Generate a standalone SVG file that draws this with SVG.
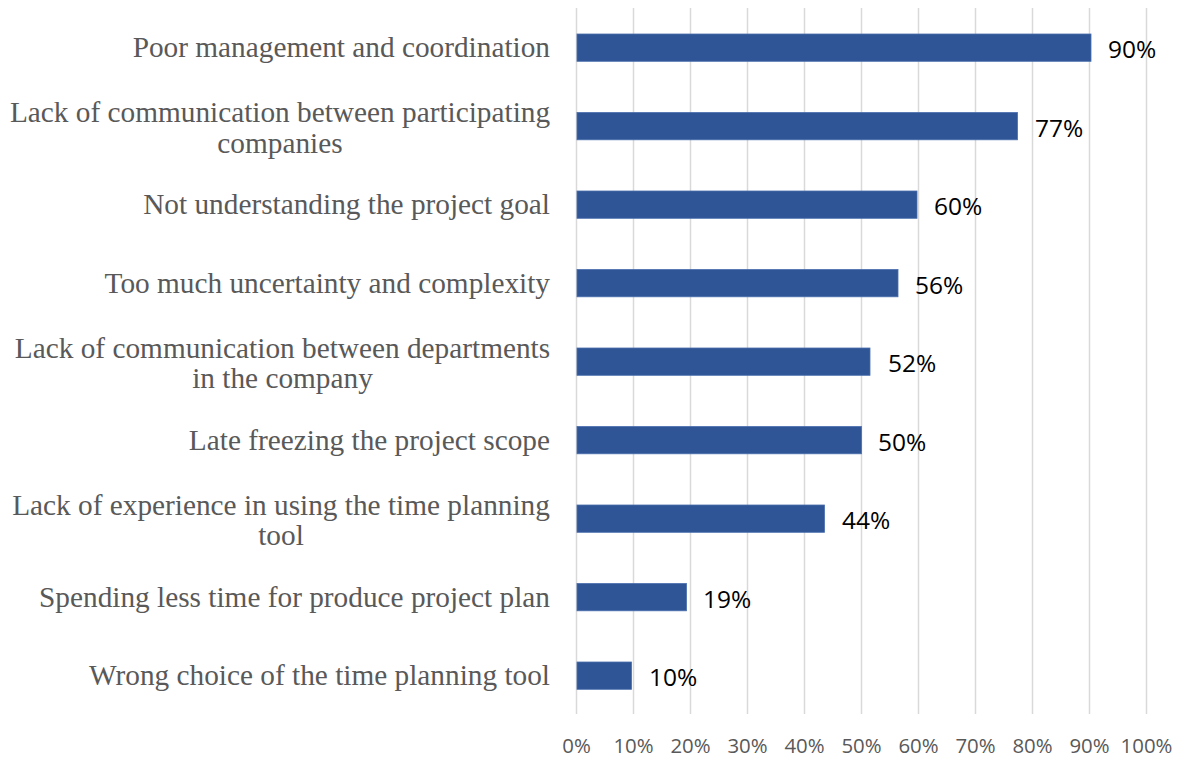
<svg xmlns="http://www.w3.org/2000/svg" width="1181" height="758" viewBox="0 0 1181 758">
<style>
.grid{stroke:#D9D9D9;stroke-width:1.5;fill:none}
.bar{fill:#2F5597;stroke:#4A6EAD;stroke-width:0.8}
.cat{font-family:"Liberation Serif","Times New Roman",serif;font-size:29.3px;fill:#595959;text-anchor:end}
.cat2{font-family:"Liberation Serif","Times New Roman",serif;font-size:29.3px;fill:#595959;text-anchor:middle}
.val{font-family:"Open Sans","Liberation Sans",sans-serif;font-size:24.5px;fill:#000000}
.tick{font-family:"Open Sans","Liberation Sans",sans-serif;font-size:20.4px;fill:#595959;text-anchor:middle}
</style>
<rect width="1181" height="758" fill="#FFFFFF"/>
<g id="gridlines">
<line class="grid" x1="576.5" y1="8" x2="576.5" y2="714"/>
<line class="grid" x1="633.5" y1="8" x2="633.5" y2="714"/>
<line class="grid" x1="690.5" y1="8" x2="690.5" y2="714"/>
<line class="grid" x1="747.5" y1="8" x2="747.5" y2="714"/>
<line class="grid" x1="804.5" y1="8" x2="804.5" y2="714"/>
<line class="grid" x1="861.5" y1="8" x2="861.5" y2="714"/>
<line class="grid" x1="918.5" y1="8" x2="918.5" y2="714"/>
<line class="grid" x1="975.5" y1="8" x2="975.5" y2="714"/>
<line class="grid" x1="1032.5" y1="8" x2="1032.5" y2="714"/>
<line class="grid" x1="1089.5" y1="8" x2="1089.5" y2="714"/>
<line class="grid" x1="1146.5" y1="8" x2="1146.5" y2="714"/>
</g>
<g id="axis-labels">
<text class="tick" x="576.5" y="753">0%</text>
<text class="tick" x="633.5" y="753">10%</text>
<text class="tick" x="690.5" y="753">20%</text>
<text class="tick" x="747.5" y="753">30%</text>
<text class="tick" x="804.5" y="753">40%</text>
<text class="tick" x="861.5" y="753">50%</text>
<text class="tick" x="918.5" y="753">60%</text>
<text class="tick" x="975.5" y="753">70%</text>
<text class="tick" x="1032.5" y="753">80%</text>
<text class="tick" x="1089.5" y="753">90%</text>
<text class="tick" x="1146.5" y="753">100%</text>
</g>
<g id="row1">
<text class="cat" x="550" y="57">Poor management and coordination</text>
<rect class="bar" x="577" y="34" width="514" height="27.3"/>
<text class="val" x="1108" y="58">90%</text>
</g>
<g id="row2">
<text class="cat2" x="280" y="122">Lack of communication between participating</text>
<text class="cat2" x="280" y="152.5">companies</text>
<rect class="bar" x="577" y="112.5" width="440.5" height="27.3"/>
<text class="val" x="1035" y="136.5">77%</text>
</g>
<g id="row3">
<text class="cat" x="550" y="214">Not understanding the project goal</text>
<rect class="bar" x="577" y="191" width="340" height="27.3"/>
<text class="val" x="934" y="215">60%</text>
</g>
<g id="row4">
<text class="cat" x="550" y="292.5">Too much uncertainty and complexity</text>
<rect class="bar" x="577" y="269.5" width="321" height="27.3"/>
<text class="val" x="915" y="293.5">56%</text>
</g>
<g id="row5">
<text class="cat2" x="282.5" y="357.5">Lack of communication between departments</text>
<text class="cat2" x="282.5" y="388">in the company</text>
<rect class="bar" x="577" y="348" width="293" height="27.3"/>
<text class="val" x="888" y="372">52%</text>
</g>
<g id="row6">
<text class="cat" x="550" y="449.5">Late freezing the project scope</text>
<rect class="bar" x="577" y="426.5" width="284.5" height="27.3"/>
<text class="val" x="878" y="450.5">50%</text>
</g>
<g id="row7">
<text class="cat2" x="281" y="514.5">Lack of experience in using the time planning</text>
<text class="cat2" x="281" y="545">tool</text>
<rect class="bar" x="577" y="505" width="247.5" height="27.3"/>
<text class="val" x="842" y="529">44%</text>
</g>
<g id="row8">
<text class="cat" x="550" y="606.5">Spending less time for produce project plan</text>
<rect class="bar" x="577" y="583.5" width="109.5" height="27.3"/>
<text class="val" x="703" y="607.5">19%</text>
</g>
<g id="row9">
<text class="cat" x="550" y="685">Wrong choice of the time planning tool</text>
<rect class="bar" x="577" y="662" width="54.5" height="27.3"/>
<text class="val" x="649" y="686">10%</text>
</g>
</svg>
